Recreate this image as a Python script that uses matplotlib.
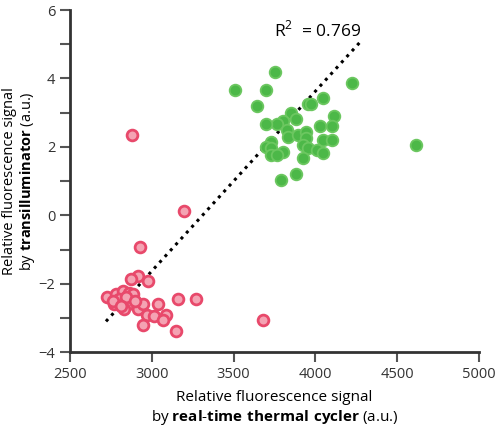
import matplotlib
matplotlib.use("Agg")
import matplotlib.pyplot as plt

red_x = [3195, 2927, 2915, 2872, 2976, 2726, 2781, 2823, 2860, 2884, 2768, 2829, 2854, 2829, 2915,
         2945, 3158, 3268, 3037, 2970, 3012, 3085, 3067, 2945, 3146, 3677, 2878, 2800, 2845, 2895, 2760, 2810]
red_y = [0.12, -0.93, -1.76, -1.85, -1.91, -2.39, -2.3, -2.2, -2.27, -2.3, -2.6, -2.5, -2.6, -2.75, -2.75,
         -2.6, -2.45, -2.45, -2.6, -2.9, -2.93, -2.9, -3.07, -3.22, -3.37, -3.07, 2.36, -2.45, -2.4, -2.5, -2.5, -2.65]
green_x = [3506, 3756, 3695, 4226, 3646, 3957, 3976, 4049, 3848, 3884, 3799, 3768, 3695, 4116, 4030, 4104,
           3829, 3835, 3896, 3945, 3945, 4049, 4104, 3726, 3695, 3726, 3927, 3957, 4012, 4049, 3799, 3726,
           3768, 3927, 3884, 3787, 4616]
green_y = [3.67, 4.18, 3.67, 3.88, 3.19, 3.25, 3.25, 3.43, 2.99, 2.81, 2.75, 2.66, 2.66, 2.9, 2.6, 2.6,
           2.48, 2.3, 2.36, 2.45, 2.27, 2.21, 2.21, 2.15, 2.0, 1.97, 2.06, 1.97, 1.91, 1.82, 1.85, 1.76,
           1.76, 1.67, 1.22, 1.04, 2.06]
fit_x = [2720, 4280]
fit_y = [-3.1, 5.1]
r2_text = "R$^2$  = 0.769"

plt.rcParams['font.family'] = ['Open Sans', 'DejaVu Sans']
plt.rcParams['mathtext.fontset'] = 'custom'
plt.rcParams['mathtext.rm'] = 'Open Sans'
plt.rcParams['mathtext.bf'] = 'Open Sans:bold'

fig = plt.figure(figsize=(5, 4.38), dpi=100)
ax = fig.add_axes([0.14, 0.196, 0.818, 0.781])
ax.plot(fit_x, fit_y, linestyle=(0, (1, 1.6)), color='black', lw=2.2, zorder=1)
ax.scatter(red_x, red_y, s=60, c='#f4a3b3', edgecolors='#e8496b', linewidths=2.0, zorder=2)
ax.scatter(green_x, green_y, s=70, c='#4cb848', edgecolors='#6cc760', linewidths=1.3, zorder=2)
ax.text(3750, 5.4, r2_text, fontsize=12.5, va='center')

ax.set_xlim(2500, 5000)
ax.set_ylim(-4, 6)
ax.set_xticks([2500, 3000, 3500, 4000, 4500, 5000])
ax.set_yticks([-4, -2, 0, 2, 4, 6])
ax.set_yticks([-3, -1, 1, 3, 5], minor=True)
for s in ['top', 'right']:
    ax.spines[s].set_visible(False)
for s in ['left', 'bottom']:
    ax.spines[s].set_linewidth(2)
    ax.spines[s].set_color('#333333')
ax.tick_params(which='both', direction='out', length=7, width=1.5, colors='#555555', labelcolor='#333333', labelsize=10.5)
ax.set_xlabel("Relative fluorescence signal\nby $\\bf{real}$-$\\bf{time\\ thermal\\ cycler}$ (a.u.)", fontsize=11, labelpad=6)
ax.set_ylabel("Relative fluorescence signal\nby $\\bf{transilluminator}$ (a.u.)", fontsize=10.5, labelpad=1, linespacing=1.1)
fig.savefig("out.png", dpi=100)
